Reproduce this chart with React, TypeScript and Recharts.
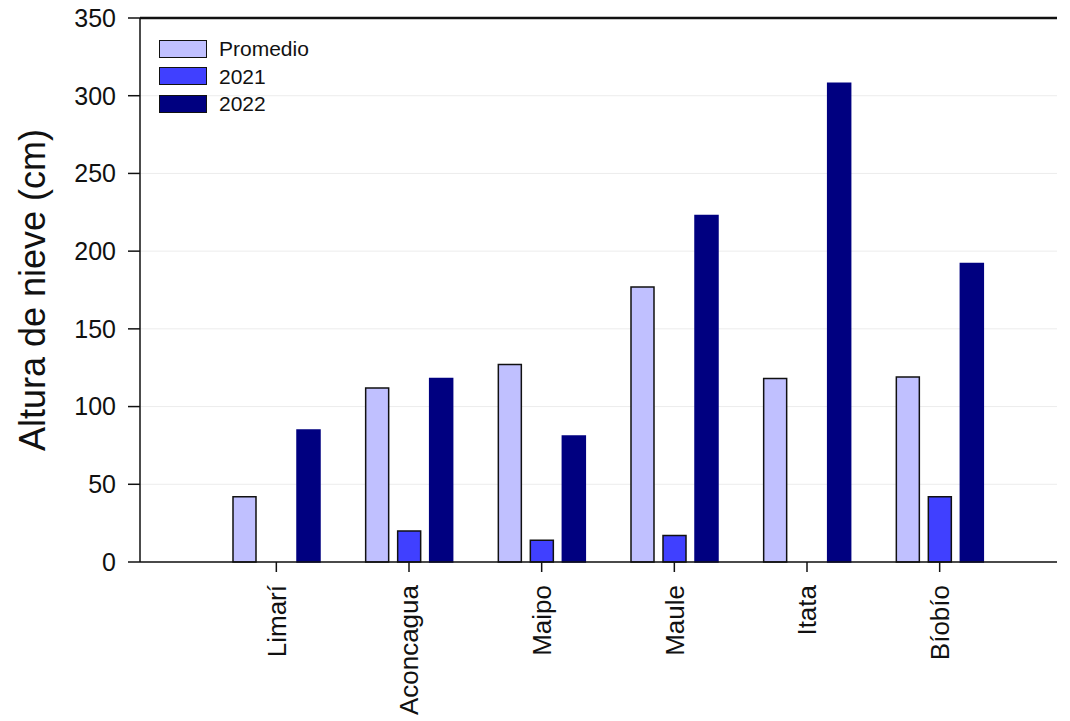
import React from 'react';
import {
  BarChart,
  Bar,
  XAxis,
  YAxis,
  CartesianGrid,
  Legend,
  ReferenceLine,
} from 'recharts';

// Snow depth per basin (cm)
const regions = ['Limarí', 'Aconcagua', 'Maipo', 'Maule', 'Itata', 'Bíobío'];
const promedio = [42, 112, 127, 177, 118, 119];
const valores2021: (number | null)[] = [null, 20, 14, 17, null, 42];
const valores2022 = [85, 118, 81, 223, 308, 192];
const yTicks = [0, 50, 100, 150, 200, 250, 300, 350];

const series = [
  { key: 'promedio', name: 'Promedio', fill: '#C0C0FF', stroke: '#111111' },
  { key: 'y2021', name: '2021', fill: '#4040FF', stroke: '#111111' },
  { key: 'y2022', name: '2022', fill: '#000080', stroke: '#000080' },
];

const data = regions.map((region, i) => ({
  region,
  promedio: promedio[i],
  y2021: valores2021[i],
  y2022: valores2022[i],
}));

const FONT = '"Liberation Sans", Arial, sans-serif';

const RotatedTick = (props: any) => {
  const { x, y, payload } = props;
  return (
    <text
      x={x}
      y={y}
      dy="0.36em"
      transform={`rotate(-90, ${x}, ${y})`}
      textAnchor="end"
      fontFamily={FONT}
      fontSize={26}
      fill="#111"
    >
      {payload.value}
    </text>
  );
};

const YTitle = (props: any) => {
  const vb = props.viewBox || {};
  const cx = (vb.x ?? 0) + 45;
  const cy = (vb.y ?? 0) + (vb.height ?? 0) / 2;
  return (
    <text
      x={cx}
      y={cy}
      transform={`rotate(-90, ${cx}, ${cy})`}
      textAnchor="middle"
      fontFamily={FONT}
      fontSize={36}
      fill="#111"
    >
      Altura de nieve (cm)
    </text>
  );
};

const LegendBox = () => (
  <div style={{ fontFamily: FONT, fontSize: 21, color: '#111' }}>
    {series.map((s) => (
      <div
        key={s.key}
        style={{ display: 'flex', alignItems: 'center', height: 19, marginBottom: 8.5 }}
      >
        <div
          style={{
            width: 46,
            height: 16,
            background: s.fill,
            border: '1.5px solid #111',
            marginRight: 12,
          }}
        />
        <span style={{ lineHeight: '19px' }}>{s.name}</span>
      </div>
    ))}
  </div>
);

export default function App() {
  return (
    <div style={{ position: 'absolute', left: 0, top: 0, background: '#fff' }}>
      <BarChart
        width={1070}
        height={721}
        data={data}
        margin={{ top: 18, right: 13, left: 0, bottom: 0 }}
        barSize={23}
        barGap={9}
      >
        <CartesianGrid vertical={false} stroke="#ececec" strokeWidth={1} />
        <XAxis
          dataKey="region"
          height={159}
          padding={{ left: 70, right: 51 }}
          tickSize={10}
          tickMargin={13}
          tick={<RotatedTick />}
          interval={0}
          axisLine={{ stroke: '#111', strokeWidth: 1.5 }}
          tickLine={{ stroke: '#111', strokeWidth: 1.5 }}
        />
        <YAxis
          width={140}
          domain={[0, 350]}
          ticks={yTicks}
          interval={0}
          tickSize={12}
          tickMargin={12}
          tick={{ fontFamily: FONT, fontSize: 25, fill: '#111' }}
          axisLine={{ stroke: '#111', strokeWidth: 1.5 }}
          tickLine={{ stroke: '#111', strokeWidth: 1.5 }}
          label={<YTitle />}
        />
        <ReferenceLine y={350} stroke="#111" strokeWidth={2.5} />
        <Legend
          layout="vertical"
          align="center"
          verticalAlign="middle"
          content={<LegendBox />}
          wrapperStyle={{ left: 159, top: 39, width: 'auto', height: 'auto' }}
        />
        {series.map((s) => (
          <Bar
            key={s.key}
            dataKey={s.key}
            name={s.name}
            fill={s.fill}
            stroke={s.stroke}
            strokeWidth={1.5}
            isAnimationActive={false}
          />
        ))}
      </BarChart>
    </div>
  );
}
